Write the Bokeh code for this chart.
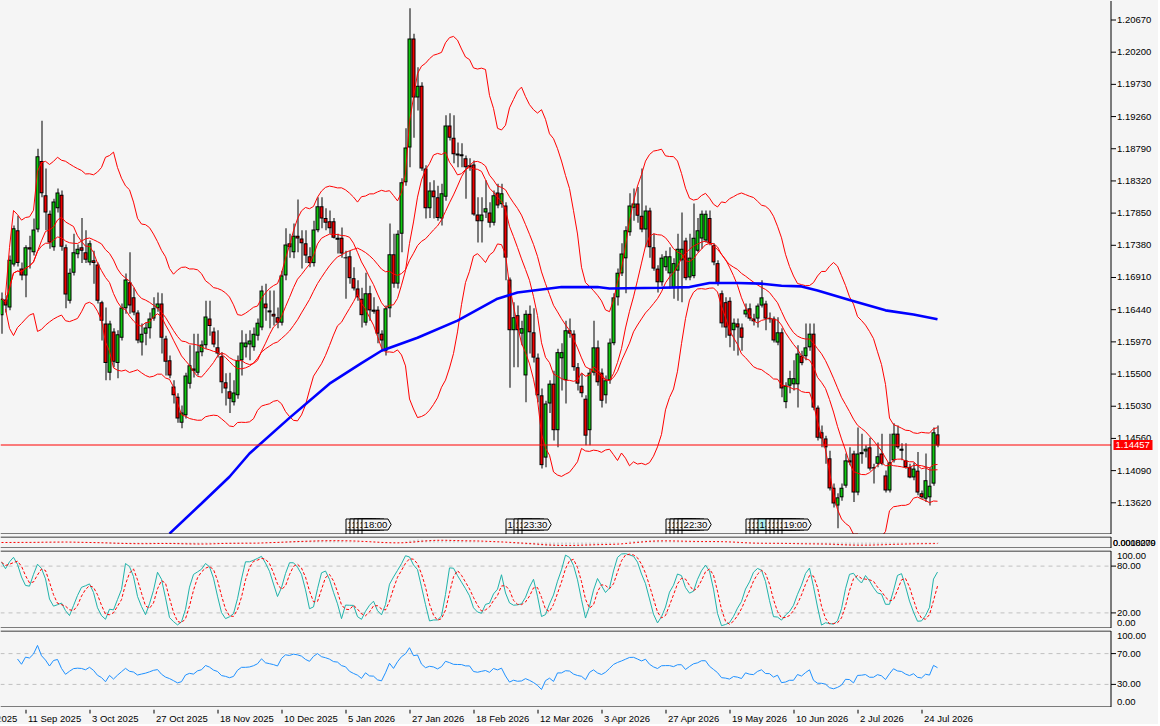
import numpy as np
import pandas as pd
from bokeh.plotting import figure
from bokeh.layouts import column
from bokeh.models import Range1d
from bokeh.embed import file_html
from bokeh.resources import INLINE
from bokeh.core.properties import value

# ---------------- data (daily bars, index 0 = 3 Sep 2025) ----------------
open_ = [
    1.1636, 1.1659, 1.1647, 1.1710, 1.1760, 1.1704, 1.1694, 1.1735, 1.1728, 1.1761,
    1.1861, 1.1811, 1.1784, 1.1735, 1.1792, 1.1812, 1.1735, 1.1657, 1.1698, 1.1725,
    1.1735, 1.1728, 1.1713, 1.1716, 1.1710, 1.1655, 1.1624, 1.1552, 1.1612, 1.1566,
    1.1603, 1.1646, 1.1684, 1.1662, 1.1640, 1.1596, 1.1609, 1.1617, 1.1631, 1.1646,
    1.1653, 1.1602, 1.1570, 1.1532, 1.1517, 1.1479, 1.1490, 1.1536, 1.1558, 1.1552,
    1.1582, 1.1592, 1.1631, 1.1612, 1.1589, 1.1576, 1.1538, 1.1525, 1.1509, 1.1519,
    1.1570, 1.1589, 1.1593, 1.1589, 1.1606, 1.1618, 1.1653, 1.1643, 1.1638, 1.1633,
    1.1625, 1.1694, 1.1741, 1.1728, 1.1752, 1.1748, 1.1741, 1.1722, 1.1712, 1.1760,
    1.1795, 1.1778, 1.1773, 1.1773, 1.1749, 1.1749, 1.1720, 1.1722, 1.1690, 1.1675,
    1.1660, 1.1625, 1.1668, 1.1644, 1.1644, 1.1609, 1.1584, 1.1646, 1.1725, 1.1682,
    1.1755, 1.1830, 1.1881, 1.2040, 1.1954, 1.1971, 1.1850, 1.1792, 1.1818, 1.1808,
    1.1777, 1.1809, 1.1913, 1.1895, 1.1872, 1.1871, 1.1865, 1.1855, 1.1856, 1.1783,
    1.1773, 1.1786, 1.1786, 1.1771, 1.1815, 1.1798, 1.1796, 1.1688, 1.1614, 1.1636,
    1.1609, 1.1548, 1.1638, 1.1611, 1.1574, 1.1519, 1.1428, 1.1507, 1.1536, 1.1468,
    1.1573, 1.1541, 1.1614, 1.1609, 1.1560, 1.1533, 1.1514, 1.1468, 1.1552, 1.1589,
    1.1552, 1.1519, 1.1541, 1.1595, 1.1662, 1.1697, 1.1719, 1.1757, 1.1793, 1.1799,
    1.1781, 1.1761, 1.1789, 1.1735, 1.1704, 1.1684, 1.1706, 1.1697, 1.1676, 1.1701,
    1.1716, 1.1745, 1.1691, 1.1693, 1.1730, 1.1748, 1.1745, 1.1778, 1.1738, 1.1712,
    1.1668, 1.1655, 1.1657, 1.1614, 1.1624, 1.1618, 1.1637, 1.1646, 1.1631, 1.1631,
    1.1650, 1.1653, 1.1631, 1.1631, 1.1596, 1.1611, 1.1509, 1.1533, 1.1535, 1.1535,
    1.1577, 1.1576, 1.1589, 1.1609, 1.1501, 1.1465, 1.1456, 1.1427, 1.1384, 1.1358,
    1.1370, 1.1387, 1.1424, 1.1434, 1.1377, 1.1433, 1.1437, 1.1443, 1.1414, 1.1419,
    1.1434, 1.1402, 1.1380, 1.1424, 1.1463, 1.1441, 1.1424, 1.1414, 1.1399, 1.1409,
    1.1376, 1.1368, 1.1370, 1.1390, 1.1462,
]
high = [
    1.1669, 1.1665, 1.1723, 1.1767, 1.1781, 1.1713, 1.1738, 1.1752, 1.1777, 1.1879,
    1.1920, 1.1850, 1.1789, 1.1806, 1.1821, 1.1818, 1.1739, 1.1704, 1.1755, 1.1739,
    1.1778, 1.1760, 1.1745, 1.1730, 1.1713, 1.1657, 1.1647, 1.1628, 1.1617, 1.1614,
    1.1653, 1.1697, 1.1728, 1.1676, 1.1643, 1.1624, 1.1625, 1.1640, 1.1662, 1.1669,
    1.1668, 1.1606, 1.1577, 1.1541, 1.1522, 1.1504, 1.1552, 1.1592, 1.1609, 1.1609,
    1.1599, 1.1657, 1.1657, 1.1618, 1.1614, 1.1582, 1.1551, 1.1552, 1.1541, 1.1577,
    1.1614, 1.1609, 1.1614, 1.1618, 1.1631, 1.1679, 1.1682, 1.1672, 1.1672, 1.1647,
    1.1701, 1.1763, 1.1755, 1.1770, 1.1805, 1.1760, 1.1760, 1.1735, 1.1774, 1.1808,
    1.1808, 1.1792, 1.1789, 1.1778, 1.1755, 1.1764, 1.1730, 1.1730, 1.1706, 1.1687,
    1.1676, 1.1698, 1.1679, 1.1662, 1.1649, 1.1614, 1.1650, 1.1770, 1.1755, 1.1760,
    1.1836, 1.1909, 1.2084, 1.2047, 1.1998, 1.1976, 1.1855, 1.1830, 1.1833, 1.1825,
    1.1828, 1.1928, 1.1931, 1.1928, 1.1888, 1.1887, 1.1869, 1.1865, 1.1862, 1.1808,
    1.1808, 1.1833, 1.1801, 1.1818, 1.1828, 1.1828, 1.1801, 1.1691, 1.1655, 1.1650,
    1.1628, 1.1643, 1.1650, 1.1646, 1.1580, 1.1529, 1.1511, 1.1541, 1.1555, 1.1587,
    1.1595, 1.1628, 1.1631, 1.1614, 1.1566, 1.1551, 1.1519, 1.1558, 1.1628, 1.1599,
    1.1558, 1.1548, 1.1602, 1.1668, 1.1704, 1.1741, 1.1766, 1.1814, 1.1821, 1.1823,
    1.1850, 1.1796, 1.1793, 1.1755, 1.1709, 1.1725, 1.1730, 1.1735, 1.1719, 1.1755,
    1.1786, 1.1749, 1.1755, 1.1799, 1.1778, 1.1789, 1.1789, 1.1789, 1.1741, 1.1716,
    1.1672, 1.1662, 1.1662, 1.1631, 1.1631, 1.1624, 1.1653, 1.1653, 1.1638, 1.1653,
    1.1687, 1.1657, 1.1640, 1.1634, 1.1633, 1.1617, 1.1538, 1.1555, 1.1570, 1.1592,
    1.1584, 1.1624, 1.1624, 1.1624, 1.1504, 1.1475, 1.1460, 1.1438, 1.1390, 1.1376,
    1.1390, 1.1434, 1.1443, 1.1438, 1.1472, 1.1463, 1.1446, 1.1457, 1.1419, 1.1450,
    1.1463, 1.1409, 1.1463, 1.1478, 1.1475, 1.1449, 1.1449, 1.1419, 1.1421, 1.1436,
    1.1380, 1.1434, 1.1414, 1.1472, 1.1475,
]
low = [
    1.1609, 1.1640, 1.1643, 1.1707, 1.1707, 1.1687, 1.1662, 1.1704, 1.1723, 1.1757,
    1.1808, 1.1760, 1.1733, 1.1730, 1.1786, 1.1730, 1.1646, 1.1653, 1.1694, 1.1719,
    1.1712, 1.1712, 1.1709, 1.1682, 1.1653, 1.1599, 1.1541, 1.1541, 1.1560, 1.1544,
    1.1599, 1.1638, 1.1638, 1.1636, 1.1595, 1.1577, 1.1592, 1.1602, 1.1628, 1.1641,
    1.1580, 1.1548, 1.1544, 1.1507, 1.1479, 1.1471, 1.1485, 1.1529, 1.1545, 1.1548,
    1.1576, 1.1587, 1.1606, 1.1589, 1.1574, 1.1522, 1.1504, 1.1493, 1.1504, 1.1514,
    1.1548, 1.1574, 1.1570, 1.1584, 1.1599, 1.1614, 1.1628, 1.1617, 1.1621, 1.1617,
    1.1621, 1.1687, 1.1720, 1.1719, 1.1728, 1.1704, 1.1712, 1.1706, 1.1707, 1.1757,
    1.1763, 1.1760, 1.1755, 1.1748, 1.1726, 1.1720, 1.1660, 1.1682, 1.1672, 1.1657,
    1.1618, 1.1621, 1.1628, 1.1638, 1.1595, 1.1584, 1.1577, 1.1633, 1.1676, 1.1675,
    1.1728, 1.1825, 1.1852, 1.1895, 1.1935, 1.1847, 1.1777, 1.1778, 1.1777, 1.1774,
    1.1767, 1.1803, 1.1891, 1.1858, 1.1852, 1.1852, 1.1806, 1.1847, 1.1781, 1.1742,
    1.1742, 1.1778, 1.1764, 1.1767, 1.1792, 1.1793, 1.1687, 1.1530, 1.1560, 1.1560,
    1.1592, 1.1509, 1.1580, 1.1567, 1.1509, 1.1412, 1.1414, 1.1493, 1.1453, 1.1443,
    1.1526, 1.1507, 1.1603, 1.1555, 1.1526, 1.1516, 1.1446, 1.1446, 1.1548, 1.1533,
    1.1501, 1.1507, 1.1536, 1.1592, 1.1650, 1.1693, 1.1668, 1.1752, 1.1774, 1.1771,
    1.1757, 1.1735, 1.1720, 1.1701, 1.1669, 1.1679, 1.1701, 1.1675, 1.1660, 1.1657,
    1.1655, 1.1687, 1.1687, 1.1690, 1.1728, 1.1733, 1.1742, 1.1738, 1.1709, 1.1679,
    1.1618, 1.1603, 1.1589, 1.1584, 1.1577, 1.1584, 1.1633, 1.1628, 1.1621, 1.1618,
    1.1647, 1.1614, 1.1625, 1.1596, 1.1592, 1.1516, 1.1500, 1.1522, 1.1526, 1.1501,
    1.1563, 1.1570, 1.1584, 1.1497, 1.1453, 1.1443, 1.1419, 1.1380, 1.1355, 1.1325,
    1.1365, 1.1384, 1.1417, 1.1363, 1.1373, 1.1419, 1.1428, 1.1409, 1.1390, 1.1414,
    1.1417, 1.1377, 1.1377, 1.1421, 1.1441, 1.1424, 1.1412, 1.1398, 1.1395, 1.1373,
    1.1368, 1.1363, 1.1358, 1.1387, 1.1443,
]
close = [
    1.1660, 1.1650, 1.1717, 1.1763, 1.1712, 1.1694, 1.1735, 1.1732, 1.1761, 1.1868,
    1.1814, 1.1786, 1.1742, 1.1802, 1.1815, 1.1736, 1.1666, 1.1698, 1.1728, 1.1733,
    1.1730, 1.1717, 1.1741, 1.1712, 1.1657, 1.1628, 1.1566, 1.1624, 1.1568, 1.1608,
    1.1647, 1.1688, 1.1650, 1.1640, 1.1599, 1.1609, 1.1618, 1.1631, 1.1646, 1.1653,
    1.1603, 1.1568, 1.1548, 1.1519, 1.1485, 1.1494, 1.1548, 1.1563, 1.1555, 1.1583,
    1.1593, 1.1634, 1.1620, 1.1593, 1.1580, 1.1538, 1.1529, 1.1514, 1.1523, 1.1570,
    1.1596, 1.1596, 1.1599, 1.1609, 1.1625, 1.1672, 1.1646, 1.1640, 1.1634, 1.1625,
    1.1694, 1.1739, 1.1735, 1.1752, 1.1748, 1.1741, 1.1723, 1.1712, 1.1761, 1.1795,
    1.1777, 1.1771, 1.1763, 1.1749, 1.1746, 1.1726, 1.1719, 1.1690, 1.1675, 1.1662,
    1.1636, 1.1668, 1.1643, 1.1641, 1.1609, 1.1599, 1.1646, 1.1725, 1.1682, 1.1755,
    1.1830, 1.1881, 1.2040, 1.1954, 1.1971, 1.1850, 1.1792, 1.1818, 1.1808, 1.1778,
    1.1814, 1.1913, 1.1895, 1.1871, 1.1869, 1.1868, 1.1852, 1.1852, 1.1783, 1.1773,
    1.1783, 1.1792, 1.1771, 1.1811, 1.1796, 1.1814, 1.1720, 1.1614, 1.1633, 1.1614,
    1.1617, 1.1638, 1.1611, 1.1574, 1.1519, 1.1417, 1.1507, 1.1536, 1.1468, 1.1582,
    1.1582, 1.1614, 1.1609, 1.1560, 1.1536, 1.1522, 1.1460, 1.1552, 1.1589, 1.1538,
    1.1511, 1.1541, 1.1596, 1.1662, 1.1698, 1.1726, 1.1760, 1.1796, 1.1799, 1.1781,
    1.1761, 1.1789, 1.1735, 1.1704, 1.1684, 1.1720, 1.1722, 1.1722, 1.1712, 1.1733,
    1.1733, 1.1690, 1.1720, 1.1749, 1.1760, 1.1784, 1.1784, 1.1741, 1.1713, 1.1682,
    1.1624, 1.1618, 1.1606, 1.1625, 1.1618, 1.1603, 1.1644, 1.1631, 1.1627, 1.1650,
    1.1662, 1.1631, 1.1630, 1.1599, 1.1611, 1.1529, 1.1533, 1.1544, 1.1544, 1.1580,
    1.1566, 1.1589, 1.1609, 1.1501, 1.1457, 1.1456, 1.1443, 1.1383, 1.1361, 1.1370,
    1.1384, 1.1424, 1.1421, 1.1377, 1.1434, 1.1436, 1.1441, 1.1412, 1.1412, 1.1430,
    1.1419, 1.1380, 1.1421, 1.1463, 1.1443, 1.1438, 1.1414, 1.1399, 1.1412, 1.1377,
    1.1370, 1.1395, 1.1387, 1.1465, 1.14457,
]
last_price = 1.14457

# 200-period moving average at sample bars
ma200_idx = [42, 50, 57, 62, 72, 82, 90, 95, 104, 114, 124, 129, 137, 140, 149,
             152, 165, 172, 177, 184, 190, 195, 200, 204, 212, 221, 228, 234]
ma200_val = [1.1317, 1.1361, 1.1400, 1.1434, 1.1486, 1.1536, 1.1566, 1.1584, 1.1603,
             1.1628, 1.1660, 1.1669, 1.1675, 1.1677, 1.1677, 1.1675, 1.1676, 1.1677,
             1.1683, 1.1683, 1.1682, 1.1679, 1.1678, 1.1672, 1.1658, 1.1643, 1.1637, 1.1630]

price_ticks = [1.13620, 1.14090, 1.14560, 1.15030, 1.15500, 1.15970, 1.16440, 1.16910,
               1.17380, 1.17850, 1.18320, 1.18790, 1.19260, 1.19730, 1.20200, 1.20670]
stoch_levels = [80, 20]
rsi_levels = [70, 30]

date_tick_idx = [-10, 6, 22, 38, 54, 70, 86, 102, 118, 134, 150, 166, 182, 198, 214, 230]
date_tick_labels = ["20 Aug 2025", "11 Sep 2025", "3 Oct 2025", "27 Oct 2025", "18 Nov 2025",
                    "10 Dec 2025", "5 Jan 2026", "27 Jan 2026", "18 Feb 2026", "12 Mar 2026",
                    "3 Apr 2026", "27 Apr 2026", "19 May 2026", "10 Jun 2026", "2 Jul 2026",
                    "24 Jul 2026"]

event_idx = [86, 87, 88, 89, 90, 126, 128, 129, 130, 166, 167, 168, 169, 170,
             186, 187, 188, 189, 191, 192, 193, 194, 195]
event_text = ["13:30", "15:00", "15:00", "16:00", "18:00",
              "13:30", "15:00", "16:00", "23:30",
              "12:30", "13:30", "14:00", "16:00", "22:30",
              "12:15", "13:30", "14:00", "13:30", "13:30", "14:00", "15:00", "17:00", "19:00"]
event_mark = [0, 0, 0, 0, 0, 0, 0, 0, 0, 0, 0, 0, 0, 0, 0, 0, 0, 1, 0, 0, 0, 0, 0]

# ---------------- arrays ----------------
N = min(len(open_), len(high), len(low), len(close))
o = np.array(open_[:N], dtype=float)
c = np.array(close[:N], dtype=float)
h = np.maximum(np.array(high[:N], dtype=float), np.maximum(o, c))
l = np.minimum(np.array(low[:N], dtype=float), np.minimum(o, c))
idx = np.arange(N)
s = pd.Series(c)

# ---------------- layout constants ----------------
BG = "#f5f5f5"
FONT = "Liberation Sans"
FS = "9.5px"
GREEN = "#10c810"
RED = "#ee0000"
W = 1158                 # canvas width (px)
AXPX = 1110.5            # price-axis line position (px)
BAR_PX = 4.0             # pixels per bar
BAR0_PX = 1.0            # pixel position of bar 0


def bx(px):
    return (px - BAR0_PX) / BAR_PX


X0, X1, XA = bx(0), bx(W), bx(AXPX)
PXX = 1.0 / BAR_PX       # one pixel in bar units
HALF = 0.5 * PXX
xr = Range1d(X0, X1)


def panel(fh, y0, y1):
    f = figure(frame_width=W, frame_height=fh, x_range=xr, y_range=Range1d(y0, y1),
               output_backend="svg", toolbar_location=None,
               x_axis_location=None, y_axis_location=None, min_border=0)
    f.background_fill_color = BG
    f.border_fill_color = BG
    f.outline_line_color = None
    f.grid.visible = False
    return f


def borders(f, y0, y1, fh, top=True):
    pv = (y1 - y0) / fh
    yt, yb = y1 - 0.5 * pv, y0 + 0.5 * pv
    if top:
        f.segment(x0=[X0], y0=[yt], x1=[XA], y1=[yt], line_color="black", line_width=1)
    f.segment(x0=[X0], y0=[yb], x1=[XA], y1=[yb], line_color="black", line_width=1)
    f.segment(x0=[XA], y0=[yb], x1=[XA], y1=[yt], line_color="black", line_width=1)


def yticks(f, vals, labels, with_ticks=True):
    k = len(vals)
    if with_ticks:
        f.segment(x0=[XA] * k, y0=vals, x1=[XA + 5 * PXX] * k, y1=vals,
                  line_color="black", line_width=1)
    f.text(x=[XA + 6 * PXX] * k, y=vals, text=labels, text_font=value(FONT),
           text_font_size=FS, text_color="black", text_baseline="middle", text_align="left")


def hlines(f, vals, **kw):
    k = len(vals)
    f.segment(x0=[X0] * k, y0=vals, x1=[XA] * k, y1=vals, **kw)


# ---------------- main price panel ----------------
MAIN_H = 534
PPU = 6848.2                                   # pixels per price unit
YMAX = 1.20670 + 19.5 / PPU
YMIN = 1.20670 - (MAIN_H - 19.5) / PPU
p = panel(MAIN_H, YMIN, YMAX)
pv = (YMAX - YMIN) / MAIN_H

# candles: crisp 1px wick, 4px black body with 2px coloured core
p.vbar(x=idx + HALF, width=PXX, top=h, bottom=l, fill_color="black", line_color=None)
btop = np.maximum(o, c)
bbot = np.minimum(o, c)
btop_draw = np.maximum(btop, bbot + pv)
p.vbar(x=idx, width=4 * PXX, top=btop_draw, bottom=bbot, fill_color="black", line_color=None)
ctop = btop - pv
cbot = bbot + pv
core = ctop > cbot
inc = (c >= o) & core
dec = (c < o) & core
p.vbar(x=idx[inc], width=2 * PXX, top=ctop[inc], bottom=cbot[inc], fill_color=GREEN, line_color=None)
p.vbar(x=idx[dec], width=2 * PXX, top=ctop[dec], bottom=cbot[dec], fill_color=RED, line_color=None)

mid = s.rolling(20, min_periods=2).mean()
sd = s.rolling(20, min_periods=2).std(ddof=0)
sma10 = s.rolling(10, min_periods=1).mean()
for line_vals in (mid + 2 * sd, mid - 2 * sd, mid, sma10):
    p.line(idx, line_vals.values, line_color="#ff0000", line_width=1)
p.line(ma200_idx, ma200_val, line_color="#0000ff", line_width=2.6)

# current-price line (snapped to a pixel row so it stays a crisp red line)
lp_row = np.floor((YMAX - last_price) / pv) + 0.5
lp_y = YMAX - lp_row * pv
p.line([X0, XA], [lp_y, lp_y], line_color="#ff0000", line_width=1)

# event flags along the bottom of the price panel
box_top = YMIN + 15.5 * pv
box_bot = YMIN + 4.5 * pv
box_w = 6.5
arrow = 0.8
for n_ev, txt, mk in zip(event_idx, event_text, event_mark):
    ex = n_ev + HALF
    xs = [ex, ex + box_w, ex + box_w + arrow, ex + box_w, ex]
    ys = [box_bot, box_bot, (box_top + box_bot) / 2, box_top, box_top]
    p.segment(x0=[ex], y0=[box_bot], x1=[ex], y1=[YMIN], line_color="black", line_width=1)
    p.patch(xs, ys, fill_color=("#aeeeee" if mk else BG), line_color="black", line_width=1)
    p.text(x=[ex + 0.4], y=[(box_top + box_bot) / 2], text=[txt],
           text_font=value(FONT), text_font_size=FS, text_color="black",
           text_baseline="middle", text_align="left")

yticks(p, price_ticks, [f"{t:.5f}" for t in price_ticks])
# current price tag on the axis
p.quad(left=[bx(1113)], right=[bx(1152)], bottom=[lp_y - 5 * pv], top=[lp_y + 5 * pv],
       fill_color="#ff0000", line_color=None)
p.text(x=[bx(1115)], y=[lp_y], text=[f"{last_price:.5f}"], text_font=value(FONT),
       text_font_size=FS, text_color="white", text_baseline="middle", text_align="left")
borders(p, YMIN, YMAX, MAIN_H, top=False)

# ---------------- thin MACD panel ----------------
ema12 = s.ewm(span=12, adjust=True).mean()
ema26 = s.ewm(span=26, adjust=True).mean()
macd = ema12 - ema26
sig = macd.rolling(9, min_periods=1).mean()
m = float(np.nanmax(np.abs(macd.values)))
TH = 12
pm = panel(TH, -1.7 * m, 1.7 * m)
pm.vbar(x=idx + HALF, width=PXX, bottom=0, top=macd.values, fill_color="#b4b4b4", line_color=None)
pm.line(idx, sig.values, line_color="#ff0000", line_width=1, line_dash="2 2")
pm.text(x=[XA + 2 * PXX, XA + 2 * PXX], y=[0, 0], text=["0.0018279", "0.0000000"],
        text_font=value(FONT), text_font_size="9px", text_color="black",
        text_baseline="middle", text_align="left")
borders(pm, -1.7 * m, 1.7 * m, TH)

# ---------------- stochastic panel ----------------
hh = pd.Series(h).rolling(5, min_periods=1).max()
ll = pd.Series(l).rolling(5, min_periods=1).min()
num = (s - ll).rolling(3, min_periods=1).sum()
den = (hh - ll).rolling(3, min_periods=1).sum()
K = 100 * num / den
D = K.rolling(3, min_periods=1).mean()
SH = 78
ps = panel(SH, 0, 100)
hlines(ps, stoch_levels, line_color="#c0c0c0", line_width=1, line_dash="4 4")
ps.line(idx, K.values, line_color="#20b2aa", line_width=1)
ps.line(idx, D.values, line_color="#ff0000", line_width=1, line_dash="3 2")
yticks(ps, stoch_levels, [f"{v:.2f}" for v in stoch_levels])
yticks(ps, [93.2, 7.3], ["100.00", "0.00"], with_ticks=False)
borders(ps, 0, 100, SH)

# ---------------- RSI panel ----------------
delta = s.diff()
gain = delta.clip(lower=0)
loss = -delta.clip(upper=0)
ag = gain.ewm(alpha=1 / 14, adjust=True, min_periods=1).mean()
al = loss.ewm(alpha=1 / 14, adjust=True, min_periods=1).mean()
rsi = (100 - 100 / (1 + ag / al)).values
rsi[:4] = np.nan
RH = 77
pr = panel(RH, 0, 100)
hlines(pr, rsi_levels, line_color="#c0c0c0", line_width=1, line_dash="4 4")
pr.line(idx, rsi, line_color="#1e90ff", line_width=1)
yticks(pr, rsi_levels, [f"{v:.2f}" for v in rsi_levels])
yticks(pr, [92.6, 6.5], ["100.00", "0.00"], with_ticks=False)
borders(pr, 0, 100, RH)

# ---------------- date labels ----------------
XH = 15
pxl = panel(XH, 0, 1)
k = len(date_tick_idx)
tick_x = [t + HALF for t in date_tick_idx]
pxl.segment(x0=tick_x, y0=[1] * k, x1=tick_x, y1=[1 - 4 / XH] * k,
            line_color="black", line_width=1)
pxl.text(x=tick_x, y=[1 - 3 / XH] * k, text=date_tick_labels,
         text_font=value(FONT), text_font_size=FS, text_color="black",
         text_baseline="top", text_align="left", x_offset=2)

layout = column(p, pm, ps, pr, pxl, spacing=2, styles={"background-color": BG})
open("out.html", "w").write(file_html(layout, INLINE))
